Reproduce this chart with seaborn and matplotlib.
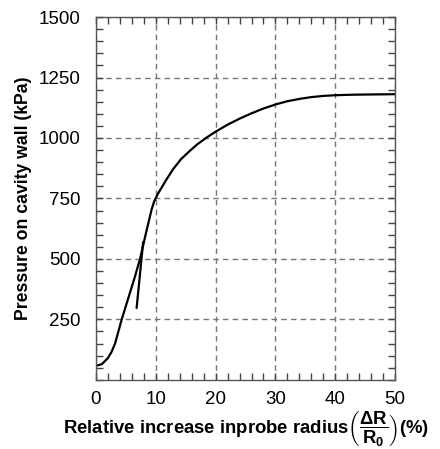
import pandas as pd
import matplotlib
matplotlib.use("Agg")
import matplotlib.pyplot as plt
import seaborn as sns
from matplotlib.ticker import MultipleLocator

# ----- Dati -----
radius_pct = [0.0, 1.0, 2.0, 2.6, 3.2, 4.3, 5.5, 6.5, 7.36, 8.3, 9.3, 9.75,
              10.4, 11.8, 12.9, 14.2, 15.7, 17.0, 18.5, 20.0, 22.0, 24.1,
              26.0, 28.0, 30.2, 32.0, 34.1, 36.0, 38.0, 40.2, 43.0, 46.0, 50.0]
pressure_kpa = [58, 65, 90, 115, 150, 249, 345, 425, 499, 600, 704, 739,
                771, 829, 871, 912, 947, 975, 1002, 1026, 1055, 1081,
                1102, 1122, 1140, 1152, 1162, 1169, 1174, 1177, 1179, 1180, 1181]

# tratto corto (tangente iniziale)
tangent_x = [6.8, 7.9]
tangent_y = [297, 570]

x_ticks = [0, 10, 20, 30, 40, 50]
y_ticks = [250, 500, 750, 1000, 1250, 1500]

curve = pd.DataFrame({"x": radius_pct, "y": pressure_kpa})
tangent = pd.DataFrame({"x": tangent_x, "y": tangent_y})

sns.set_style("ticks")
plt.rcParams["font.family"] = ["Liberation Sans", "DejaVu Sans"]
plt.rcParams["text.color"] = "black"
plt.rcParams["axes.labelcolor"] = "black"
plt.rcParams["mathtext.fontset"] = "custom"
plt.rcParams["mathtext.rm"] = "Liberation Sans:bold"
plt.rcParams["mathtext.it"] = "Liberation Sans:bold"
plt.rcParams["mathtext.bf"] = "Liberation Sans:bold"

fig = plt.figure(figsize=(4.4, 4.49), dpi=100)
ax = fig.add_axes([0.218, 0.154, 0.680, 0.808])

sns.lineplot(data=curve, x="x", y="y", color="black", linewidth=1.6, ax=ax,
             sort=False, estimator=None)
sns.lineplot(data=tangent, x="x", y="y", color="black", linewidth=1.6, ax=ax,
             sort=False, estimator=None)

ax.set_xlim(0, 50)
ax.set_ylim(0, 1500)
ax.set_xticks(x_ticks)
ax.set_yticks(y_ticks)
ax.xaxis.set_minor_locator(MultipleLocator(2))
ax.yaxis.set_minor_locator(MultipleLocator(50))

ax.grid(True, which="major", linestyle=(0, (4, 3)), color="#777777", linewidth=1.0)
ax.set_axisbelow(True)

ax.tick_params(which="both", direction="in", top=True, right=True,
               labelsize=13.5, colors="#444444", labelcolor="black")
ax.tick_params(axis="x", which="major", length=5, width=1, pad=8)
ax.tick_params(axis="y", which="major", length=5, width=1, pad=11)
ax.tick_params(which="minor", length=5, width=1)
for s in ax.spines.values():
    s.set_color("#555555")
    s.set_linewidth(1.0)

ax.set_ylabel("Pressure on cavity wall (kPa)", fontsize=12.7, fontweight="bold",
              labelpad=5, color="black")
ax.set_xlabel(r"Relative increase inprobe radius$\left(\dfrac{\Delta R}{R_0}\right)$(%)",
              fontsize=13.3, fontweight="bold", labelpad=1, color="black")

plt.savefig("out.png", dpi=100)
